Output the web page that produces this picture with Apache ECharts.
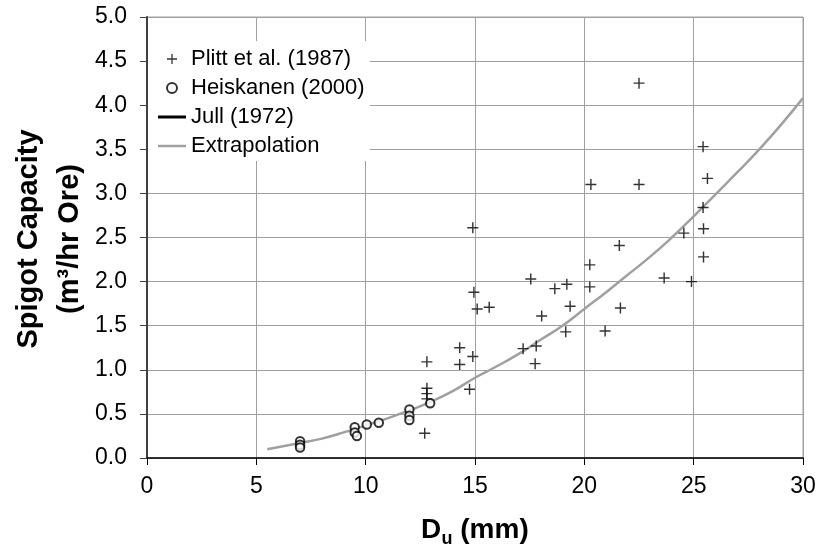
<!DOCTYPE html>
<html lang="en">
<head>
    <meta charset="UTF-8">
    <title>Spigot Capacity</title>
    <script src="https://cdn.jsdelivr.net/npm/echarts@6/dist/echarts.min.js"></script>
    <style>
        html, body { margin: 0; padding: 0; background: #fff; }
    </style>
</head>
<body>
<div id="main" style="width: 820px;height:550px;"></div>
<script type="text/javascript">
// Plitt et al. (1987) - plus markers
var plittX = [12.7, 12.8, 12.8, 12.8, 12.8, 14.3, 14.3, 14.75, 14.9, 14.9, 14.95, 15.1, 15.65,
    17.2, 17.55, 17.75, 17.8, 18.05, 18.65, 19.15, 19.2, 19.35, 20.25, 20.25, 20.3, 20.95,
    21.6, 21.65, 22.5, 22.5, 23.65, 24.55, 24.9, 25.43, 25.43, 25.45, 25.45, 25.63];
var plittY = [0.28, 1.09, 0.79, 0.73, 0.67, 1.25, 1.06, 0.78, 1.15, 2.61, 1.88, 1.69, 1.71,
    1.24, 2.03, 1.07, 1.27, 1.61, 1.92, 1.43, 1.97, 1.72, 2.19, 1.94, 3.10, 1.44,
    2.41, 1.70, 4.25, 3.10, 2.04, 2.55, 2.00, 3.53, 2.84, 2.60, 2.28, 3.17];

// Heiskanen (2000) - open circles
var heisX = [7.0, 7.0, 7.0, 9.5, 9.5, 9.6, 10.05, 10.6, 12.0, 12.0, 12.0, 12.95];
var heisY = [0.19, 0.15, 0.12, 0.35, 0.29, 0.25, 0.38, 0.40, 0.55, 0.48, 0.43, 0.62];

// Jull (1972) - hidden under the extrapolation line, only shows in legend
var jullX = [];
var jullY = [];

// Extrapolation curve
var extX = [5.5, 7, 8, 9, 10, 11, 12, 13, 14, 15, 16, 17, 18, 19, 20, 21, 22, 23, 24, 25, 26, 27, 28, 29, 30];
var extY = [0.10, 0.17, 0.22, 0.29, 0.37, 0.45, 0.54, 0.64, 0.76, 0.91, 1.04, 1.18, 1.34, 1.50, 1.69,
    1.88, 2.08, 2.28, 2.50, 2.74, 2.99, 3.24, 3.50, 3.78, 4.08];

var xTicks = [0, 30, 5];      // min, max, interval
var yTicks = [0, 5, 0.5];

function pairs(xs, ys) {
    var out = [];
    for (var i = 0; i < xs.length; i++) {
        out.push([xs[i], ys[i]]);
    }
    return out;
}

var font = "'Liberation Sans', Arial, Helvetica, sans-serif";
var plusPath = 'path://M4.35,0h1.3v10h-1.3zM0,4.35h10v1.3h-10z';

var myChart = echarts.init(document.getElementById('main'));
var option = {
    backgroundColor: '#fff',
    animation: false,
    grid: {
        left: 147,
        right: 17,
        top: 17,
        bottom: 92,
        show: true,
        borderColor: '#a0a0a0',
        borderWidth: 1
    },
    legend: {
        orient: 'vertical',
        left: 148,
        top: 41,
        padding: [7, 5, 4, 10],
        backgroundColor: '#fff',
        itemWidth: 28,
        itemHeight: 10,
        itemGap: 7,
        selectedMode: false,
        textStyle: { fontSize: 22, color: '#000', fontFamily: font },
        data: [
            { name: 'Plitt et al. (1987)' },
            { name: 'Heiskanen (2000)' },
            { name: 'Jull (1972)', icon: 'path://M0,0h28v3h-28z' },
            { name: 'Extrapolation', icon: 'path://M0,0h28v2.5h-28z' }
        ]
    },
    xAxis: {
        type: 'value',
        min: xTicks[0],
        max: xTicks[1],
        interval: xTicks[2],
        axisLine: { show: true, onZero: false, lineStyle: { color: '#000', width: 1.5 } },
        axisTick: { show: true, inside: false, length: 7, lineStyle: { color: '#000', width: 1 } },
        axisLabel: { fontSize: 23, color: '#000', fontFamily: font, margin: 17 },
        splitLine: { show: true, lineStyle: { color: '#a0a0a0', width: 1 } }
    },
    yAxis: {
        type: 'value',
        min: yTicks[0],
        max: yTicks[1],
        interval: yTicks[2],
        axisLine: { show: true, lineStyle: { color: '#404040', width: 2 } },
        axisTick: { show: true, inside: false, length: 7, lineStyle: { color: '#404040', width: 1 } },
        axisLabel: {
            fontSize: 23, color: '#000', fontFamily: font, margin: 20,
            formatter: function (v) { return v.toFixed(1); }
        },
        splitLine: { show: true, lineStyle: { color: '#a0a0a0', width: 1 } }
    },
    graphic: [
        {
            type: 'text', x: 29, y: 239, rotation: Math.PI / 2,
            style: {
                text: 'Spigot Capacity', fontSize: 29, fontWeight: 'bold', fontFamily: font,
                fill: '#000', align: 'center', verticalAlign: 'middle'
            }
        },
        {
            type: 'text', x: 70, y: 239, rotation: Math.PI / 2,
            style: {
                text: '(m\u00b3/hr Ore)', fontSize: 29, fontWeight: 'bold', fontFamily: font,
                fill: '#000', align: 'center', verticalAlign: 'middle'
            }
        },
        {
            type: 'text', x: 421, y: 530,
            style: {
                text: 'D', fontSize: 28, fontWeight: 'bold', fontFamily: font,
                fill: '#000', align: 'left', verticalAlign: 'middle'
            }
        },
        {
            type: 'text', x: 441.5, y: 539,
            style: {
                text: 'u', fontSize: 18, fontWeight: 'bold', fontFamily: font,
                fill: '#000', align: 'left', verticalAlign: 'middle'
            }
        },
        {
            type: 'text', x: 452.5, y: 530,
            style: {
                text: ' (mm)', fontSize: 28, fontWeight: 'bold', fontFamily: font,
                fill: '#000', align: 'left', verticalAlign: 'middle'
            }
        }
    ],
    series: [
        {
            name: 'Plitt et al. (1987)',
            type: 'scatter',
            symbol: plusPath,
            symbolSize: 11,
            itemStyle: { color: '#000' },
            data: pairs(plittX, plittY),
            z: 3
        },
        {
            name: 'Heiskanen (2000)',
            type: 'scatter',
            symbol: 'emptyCircle',
            symbolSize: 8.5,
            itemStyle: { color: '#000', borderColor: '#000', borderWidth: 1 },
            data: pairs(heisX, heisY),
            z: 3
        },
        {
            name: 'Jull (1972)',
            type: 'line',
            symbol: 'none',
            color: '#000',
            lineStyle: { color: '#000', width: 2.5 },
            data: pairs(jullX, jullY)
        },
        {
            name: 'Extrapolation',
            type: 'line',
            symbol: 'none',
            smooth: true,
            color: '#a0a0a0',
            lineStyle: { color: '#a0a0a0', width: 2.5 },
            data: pairs(extX, extY),
            z: 2
        }
    ]
};
myChart.setOption(option);
</script>
</body>
</html>
